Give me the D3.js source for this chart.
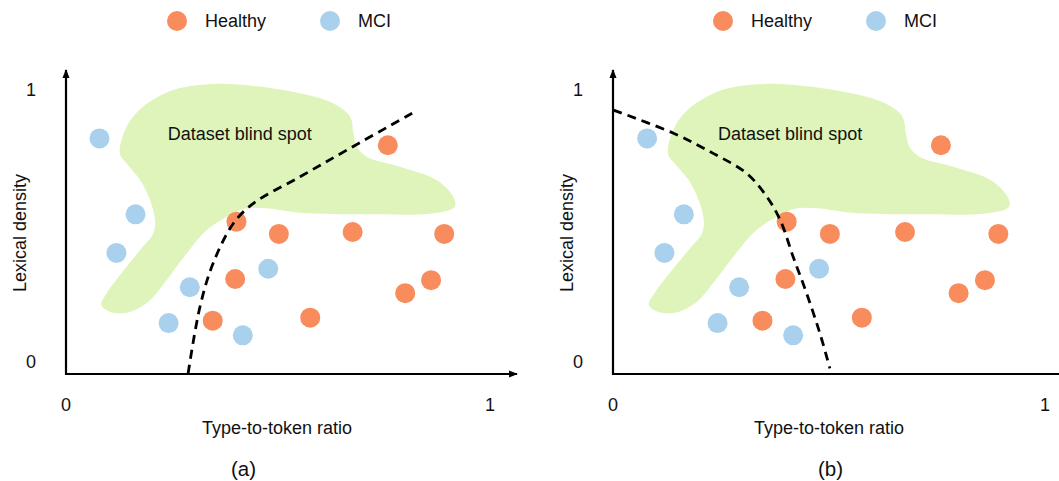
<!DOCTYPE html>
<html><head><meta charset="utf-8">
<script src="https://cdn.jsdelivr.net/npm/d3@7"></script>
<style>body{margin:0;background:#fff}svg{display:block}text{font-family:"Liberation Sans",Arial,sans-serif;fill:#111}</style>
</head><body><svg id="c" width="1059" height="481"></svg>
<script>
// ---- data ----
const seriesNames = ["Healthy", "MCI"];
const healthyX = [0.759, 0.402, 0.502, 0.676, 0.892, 0.399, 0.861, 0.800, 0.346, 0.576];
const healthyY = [0.797, 0.516, 0.471, 0.478, 0.471, 0.305, 0.301, 0.253, 0.152, 0.163];
const mciX = [0.079, 0.164, 0.119, 0.292, 0.242, 0.477, 0.417];
const mciY = [0.822, 0.543, 0.401, 0.275, 0.143, 0.343, 0.098];
const boundaryAX = [0.288, 0.316, 0.347, 0.395, 0.442, 0.552, 0.670, 0.827];
const boundaryAY = [-0.042, 0.203, 0.363, 0.510, 0.583, 0.681, 0.786, 0.924];
const boundaryBX = [0.001, 0.140, 0.232, 0.309, 0.356, 0.387, 0.417, 0.448, 0.479, 0.502];
const boundaryBY = [0.926, 0.841, 0.767, 0.694, 0.608, 0.522, 0.387, 0.253, 0.105, -0.023];
const blindX = [0.127,0.143,0.182,0.253,0.347,0.442,0.552,0.630,0.670,0.678,0.686,0.709,0.788,0.874,0.913,0.917,0.866,0.709,0.552,0.473,0.426,0.395,0.332,0.285,0.237,0.190,0.143,0.104,0.083,0.096,0.143,0.175,0.206,0.210,0.198,0.175,0.143];
const blindY = [0.767,0.865,0.939,1.000,1.022,1.015,0.988,0.951,0.902,0.840,0.792,0.755,0.718,0.669,0.608,0.571,0.547,0.543,0.549,0.565,0.565,0.547,0.485,0.400,0.301,0.216,0.181,0.185,0.210,0.253,0.350,0.412,0.473,0.522,0.596,0.669,0.730];
const blindLabel = "Dataset blind spot";
const blindLabelPos = [0.41, 0.838];
const tickLabels = ["0", "1"];
const xTitle = "Type-to-token ratio";
const yTitle = "Lexical density";
const panelLabels = ["(a)", "(b)"];

const colors = {Healthy: "#f88c5d", MCI: "#a9d1ed", blind: "#dff4bb"};
const svg = d3.select("#c");

svg.append("defs").append("marker").attr("id","arr").attr("viewBox","0 0 10 10")
  .attr("refX",9).attr("refY",5).attr("markerWidth",4).attr("markerHeight",4)
  .attr("orient","auto").attr("markerUnits","strokeWidth")
  .append("path").attr("d","M0,1 L10,5 L0,9 Z").attr("fill","#000");

const panels = [
  {x0: 66, x1: 490, axisEnd: 517, arrowX: true, bx: boundaryAX, by: boundaryAY, label: panelLabels[0], labelX: 243.5, titleX: 277, legend: 177},
  {x0: 613, x1: 1045, axisEnd: 1062, arrowX: false, bx: boundaryBX, by: boundaryBY, label: panelLabels[1], labelX: 830.5, titleX: 829, legend: 723}
];

panels.forEach(p => {
  const x = d3.scaleLinear().domain([0,1]).range([p.x0, p.x1]);
  const y = d3.scaleLinear().domain([0,1]).range([362, 90]);
  const g = svg.append("g");
  const axisY = 374;

  // blind spot
  const blob = blindX.map((v,i)=>[v, blindY[i]]);
  g.append("path")
    .attr("d", d3.line().x(d=>x(d[0])).y(d=>y(d[1])).curve(d3.curveCatmullRomClosed.alpha(0.5))(blob))
    .attr("fill", colors.blind);
  g.append("text").attr("x", x(blindLabelPos[0])).attr("y", y(blindLabelPos[1]))
    .attr("text-anchor","middle").attr("dy","0.35em").attr("font-size",18).text(blindLabel);

  // points
  const pts = healthyX.map((v,i)=>({x:v,y:healthyY[i],s:"Healthy"}))
    .concat(mciX.map((v,i)=>({x:v,y:mciY[i],s:"MCI"})));
  g.selectAll("circle.pt").data(pts).join("circle").attr("class","pt")
    .attr("cx", d=>x(d.x)).attr("cy", d=>y(d.y)).attr("r", 10)
    .attr("fill", d=>colors[d.s]);

  // boundary
  const bd = p.bx.map((v,i)=>[v, p.by[i]]);
  g.append("path")
    .attr("d", d3.line().x(d=>x(d[0])).y(d=>y(d[1])).curve(d3.curveCatmullRom.alpha(0.5))(bd))
    .attr("fill","none").attr("stroke","#000").attr("stroke-width",2.8)
    .attr("stroke-dasharray","9,6");

  // axes
  g.append("line").attr("x1", p.x0).attr("x2", p.axisEnd).attr("y1", axisY).attr("y2", axisY)
    .attr("stroke","#000").attr("stroke-width",2.2)
    .attr("marker-end", p.arrowX ? "url(#arr)" : null);
  g.append("line").attr("x1", p.x0).attr("x2", p.x0).attr("y1", axisY + 1.1).attr("y2", 70)
    .attr("stroke","#000").attr("stroke-width",2.2).attr("marker-end","url(#arr)");

  // tick labels
  [0,1].forEach(v => {
    g.append("text").attr("x", x(v)).attr("y", 405).attr("dy","0.35em")
      .attr("text-anchor","middle").attr("font-size",18).text(tickLabels[v]);
    g.append("text").attr("x", p.x0 - 35).attr("y", y(v)).attr("dy","0.35em")
      .attr("text-anchor","middle").attr("font-size",18).text(tickLabels[v]);
  });

  // titles
  g.append("text").attr("x", p.titleX).attr("y", 428).attr("dy","0.35em")
    .attr("text-anchor","middle").attr("font-size",18).text(xTitle);
  g.append("text").attr("transform", `translate(${p.x0 - 46},233) rotate(-90)`).attr("dy","0.35em")
    .attr("text-anchor","middle").attr("font-size",18).text(yTitle);
  g.append("text").attr("x", p.labelX).attr("y", 469).attr("dy","0.35em")
    .attr("text-anchor","middle").attr("font-size",20.5).text(p.label);

  // legend
  const lg = g.append("g");
  seriesNames.forEach((s,i) => {
    const cx = p.legend + i*153;
    lg.append("circle").attr("cx", cx).attr("cy", 21).attr("r", 10).attr("fill", colors[s]);
    lg.append("text").attr("x", cx + 28).attr("y", 21).attr("dy","0.35em").attr("font-size",18).text(s);
  });
});
</script></body></html>
